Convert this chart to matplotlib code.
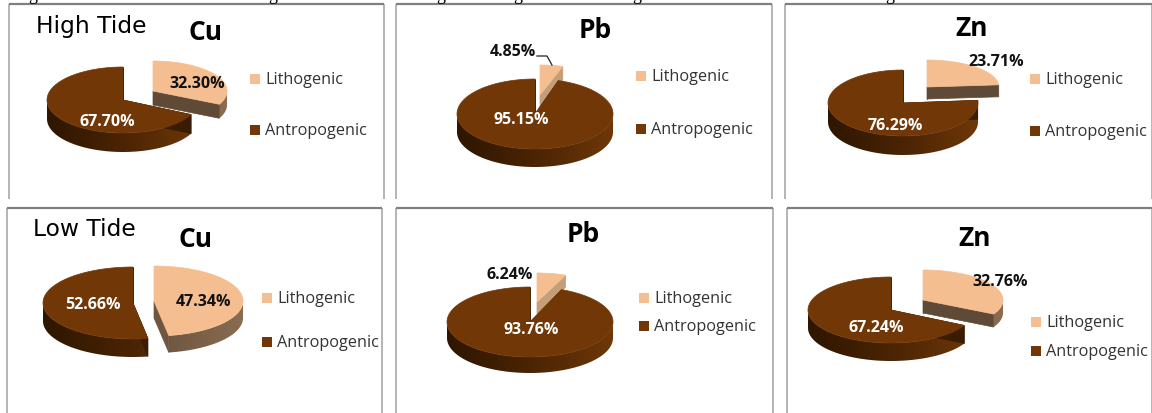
#!/usr/bin/env python3

import numpy as np
import matplotlib
matplotlib.use('Agg')
import matplotlib.pyplot as plt
from matplotlib.colors import LinearSegmentedColormap
from matplotlib.patches import Polygon

# chart values, percent
metals = ['Cu', 'Pb', 'Zn', 'Cu', 'Pb', 'Zn']
lithogenic = [32.30, 4.85, 23.71, 47.34, 6.24, 32.76]
antropogenic = [67.70, 95.15, 76.29, 52.66, 93.76, 67.24]
legend_labels = ['Lithogenic', 'Antropogenic']
tide_labels = ['High Tide', 'Low Tide']

# layout, in pixels of the 1152x414 picture
dark_geom = [(123, 101, 76, 33, 19), (535, 115, 78, 35, 18), (903, 104, 75, 33, 19),
             (133, 304, 90, 36, 18), (530, 323, 83, 35, 16), (891, 311, 83, 33, 18)]
light_geom = [(153, 92, 74, 30, 14), (540, 96, 76, 30, 14), (927, 88, 72, 27, 12),
              (154, 302, 89, 35, 17), (537, 303, 75, 29, 12), (923, 301, 80, 30, 13)]
cut_colors = ['#5f4a38', '#c49e78', '#5f4a38', '#6f5640', '#c49e78', '#5f4a38']
title_pos = [(206, 33), (595, 30), (972, 29), (195, 240), (583, 235), (975, 239)]
light_label_pos = [(197, 84), (513, 52), (996, 62), (203, 302), (510, 275), (1000, 282)]
dark_label_pos = [(107, 122), (521, 120), (895, 126), (93, 305), (531, 330), (876, 328)]
legend_x = [255, 641, 1035, 267, 644, 1036]
legend_y = [(80, 131), (77, 130), (80, 132), (299, 343), (299, 327), (323, 352)]
frames = [(9, 384, 5, 200), (396, 772, 5, 200), (785, 1152, 5, 200),
          (7, 382, 209, 414), (396, 773, 209, 414), (787, 1152, 209, 414)]
tide_pos = [(91.5, 26), (84.5, 230)]
top_line_x = [33, 273, 441, 518, 637, 890]

DARK_TOP = '#723706'
DARK_SIDE = ['#6e3708', '#4a2404', '#2e1600']
LIGHT_TOP = '#f5be90'
LIGHT_SIDE = ['#8a6d50', '#6a5340', '#5c4735']
LABEL_FONT = 'Open Sans'


def ring_point(geom, t):
    cx, cy, rx, ry, _ = geom
    t = np.radians(t)
    return cx + rx * np.sin(t), cy - ry * np.cos(t)


def draw_wedge(ax, geom, a0, a1, top, side, cut):
    cx, cy, rx, ry, depth = geom

    # the two cut faces, mostly hidden later by the top face
    for a in (a0, a1):
        x, y = ring_point(geom, a)
        ax.add_patch(Polygon([(cx, cy), (x, y), (x, y + depth), (cx, cy + depth)],
                             closed=True, fc=cut, ec=cut, lw=0.5))

    # outer rim, only the part facing the viewer, shaded from right to left
    lo, hi = max(a0, 90), min(a1, 270)
    if hi > lo:
        angles = np.linspace(lo, hi, int(hi - lo) + 2)
        xs, ys = ring_point(geom, angles)
        rim = list(zip(xs, ys)) + list(zip(xs[::-1], ys[::-1] + depth))
        patch = Polygon(rim, closed=True, fc='none', ec='none')
        ax.add_patch(patch)
        cmap = LinearSegmentedColormap.from_list('rim', side)
        grad = np.linspace(0, 1, 256)[None, ::-1]
        img = ax.imshow(grad, cmap=cmap, aspect='auto', interpolation='bilinear',
                        extent=(cx - rx, cx + rx, cy + ry + depth, cy - ry))
        img.set_clip_path(patch)

    # top face
    angles = np.linspace(a0, a1, int(a1 - a0) + 2)
    xs, ys = ring_point(geom, angles)
    ax.add_patch(Polygon([(cx, cy)] + list(zip(xs, ys)), closed=True, fc=top, ec=top, lw=0.5, zorder=2))


fig = plt.figure(figsize=(11.52, 4.14), dpi=100)
ax = fig.add_axes([0, 0, 1, 1])
ax.axis('off')

# descenders of the caption line cut off by the crop
for x in top_line_x:
    ax.text(x, -5, 'g', family='Liberation Serif', fontsize=13, ha='center', va='center', color='black')

for i in range(6):
    x0, x1, y0, y1 = frames[i]
    ax.plot([x0, x0], [y0, y1], color='#a8a8a8', lw=1.2, solid_capstyle='butt')
    ax.plot([x1, x1], [y0, y1], color='#a8a8a8', lw=1.2, solid_capstyle='butt')
    ax.plot([x0, x1], [y0, y0], color='#808080', lw=1.6, solid_capstyle='butt')

    split = lithogenic[i] / (lithogenic[i] + antropogenic[i]) * 360
    draw_wedge(ax, light_geom[i], 0, split, LIGHT_TOP, LIGHT_SIDE, cut_colors[i])
    draw_wedge(ax, dark_geom[i], split, 360, DARK_TOP, DARK_SIDE, '#3a1c02')

    ax.text(*title_pos[i], metals[i], family='Open Sans', fontweight='bold', fontsize=19,
            ha='center', va='center', color='black', zorder=5)
    ax.text(*light_label_pos[i], f'{lithogenic[i]:.2f}%', family=LABEL_FONT, fontweight='bold',
            fontsize=11.5, ha='center', va='center', color='#111111', zorder=5)
    ax.text(*dark_label_pos[i], f'{antropogenic[i]:.2f}%', family=LABEL_FONT, fontweight='bold',
            fontsize=11.5, ha='center', va='center', color='white', zorder=5)

    for y, name, c in zip(legend_y[i], legend_labels, (LIGHT_TOP, DARK_TOP)):
        ax.scatter([legend_x[i]], [y], marker='s', s=50, color=c, linewidths=0)
        ax.text(legend_x[i] + 10, y, name, family=LABEL_FONT, fontsize=11.7, ha='left', va='center',
                color='#333333')

# leader line of the small Pb slice
ax.plot([537, 547, 552], [57, 57, 66], color='#222222', lw=0.9)

for (x, y), name in zip(tide_pos, tide_labels):
    ax.text(x, y, name, family='DejaVu Sans', fontsize=16.8, ha='center', va='center', color='black')

ax.set_xlim(0, 1152)
ax.set_ylim(414, 0)

fig.savefig('out.png', dpi=100)
